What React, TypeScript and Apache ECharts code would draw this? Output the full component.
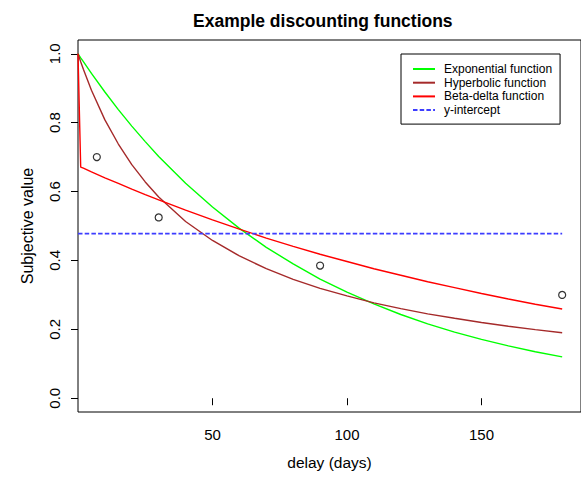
import React, { useEffect, useRef } from "react";
import * as echarts from "echarts";

const delays = [0, 1, 2, 5, 10, 15, 20, 25, 30, 40, 50, 60, 70, 80, 90, 100, 110, 120, 130, 140, 150, 160, 170, 180];
const exponential = [1.0, 0.988, 0.977, 0.943, 0.889, 0.838, 0.79, 0.745, 0.702, 0.624, 0.555, 0.493, 0.438, 0.39, 0.346, 0.308, 0.274, 0.243, 0.216, 0.192, 0.171, 0.152, 0.135, 0.12];
const hyperbolic = [1.0, 0.977, 0.955, 0.894, 0.808, 0.738, 0.678, 0.628, 0.584, 0.513, 0.458, 0.413, 0.376, 0.345, 0.319, 0.297, 0.277, 0.26, 0.245, 0.232, 0.22, 0.209, 0.199, 0.19];
const betaDelta = [1.0, 0.671, 0.668, 0.657, 0.64, 0.624, 0.607, 0.591, 0.576, 0.546, 0.518, 0.491, 0.465, 0.441, 0.418, 0.397, 0.376, 0.357, 0.338, 0.321, 0.304, 0.288, 0.273, 0.259];
const yInterceptValue = 0.478;
const yInterceptRange = [0, 180];

const obsDelays = [7, 30, 90, 180];
const obsValues = [0.7, 0.525, 0.385, 0.3];

const xTicks = [50, 100, 150];
const yTicks = [0, 0.2, 0.4, 0.6, 0.8, 1.0];

const FONT = "'Liberation Sans', Arial, Helvetica, sans-serif";

export default function App() {
  const ref = useRef<HTMLDivElement>(null);
  useEffect(() => {
    if (!ref.current) return;
    const chart = echarts.init(ref.current, null, { renderer: "svg" });
    const pair = (vals: number[]) => delays.map((d, i) => [d, vals[i]]);
    const hidden = { opacity: 0 };
    chart.setOption({
      animation: false,
      backgroundColor: "#fff",
      title: {
        text: "Example discounting functions",
        left: 188,
        top: 7,
        textStyle: { fontFamily: FONT, fontSize: 17.5, fontWeight: "bold", color: "#000" },
      },
      grid: {
        left: 78,
        top: 40,
        width: 505,
        height: 372,
        show: true,
        borderColor: "#000",
        borderWidth: 1,
        containLabel: false,
      },
      legend: {
        orient: "vertical",
        left: 401,
        top: 54,
        padding: [9, 8, 8, 11],
        itemGap: 1.7,
        itemWidth: 22,
        itemHeight: 12,
        borderColor: "#000",
        borderWidth: 1,
        backgroundColor: "#fff",
        itemStyle: { opacity: 0 },
        textStyle: { fontFamily: FONT, fontSize: 12, color: "#000", padding: [0, 0, 0, 4] },
        data: ["Exponential function", "Hyperbolic function", "Beta-delta function", "y-intercept"],
      },
      xAxis: {
        type: "value",
        min: 0,
        max: 187,
        name: "delay (days)",
        nameLocation: "middle",
        nameGap: 42,
        nameTextStyle: { fontFamily: FONT, fontSize: 15.5, color: "#000" },
        axisLine: { show: false },
        splitLine: { show: false },
        axisTick: { show: true, length: 7, lineStyle: { color: "#000" }, customValues: xTicks },
        axisLabel: { fontFamily: FONT, fontSize: 15, color: "#000", margin: 15, customValues: xTicks },
      },
      yAxis: {
        type: "value",
        min: -0.04,
        max: 1.04,
        name: "Subjective value",
        nameLocation: "middle",
        nameGap: 43,
        nameTextStyle: { fontFamily: FONT, fontSize: 16, color: "#000" },
        axisLine: { show: false },
        splitLine: { show: false },
        axisTick: { show: true, length: 7, lineStyle: { color: "#000" }, customValues: yTicks },
        axisLabel: {
          fontFamily: FONT,
          fontSize: 15,
          color: "#000",
          rotate: 90,
          margin: 16,
          customValues: yTicks,
          formatter: (v: number) => v.toFixed(1),
        },
      },
      series: [
        {
          name: "Observed",
          type: "scatter",
          data: obsDelays.map((d, i) => [d, obsValues[i]]),
          symbol: "circle",
          symbolSize: 7,
          itemStyle: { color: "#fff", borderColor: "#000", borderWidth: 1.2 },
          z: 5,
        },
        {
          name: "Exponential function",
          type: "line",
          data: pair(exponential),
          symbol: "none",
          color: "#00ff00",
          itemStyle: hidden,
          lineStyle: { color: "#00ff00", width: 1.4 },
        },
        {
          name: "Hyperbolic function",
          type: "line",
          data: pair(hyperbolic),
          symbol: "none",
          color: "#a52a2a",
          itemStyle: hidden,
          lineStyle: { color: "#a52a2a", width: 1.4 },
        },
        {
          name: "Beta-delta function",
          type: "line",
          data: pair(betaDelta),
          symbol: "none",
          color: "#ff0000",
          itemStyle: hidden,
          lineStyle: { color: "#ff0000", width: 1.4 },
        },
        {
          name: "y-intercept",
          type: "line",
          data: yInterceptRange.map((d) => [d, yInterceptValue]),
          symbol: "none",
          color: "#3d3dff",
          itemStyle: hidden,
          lineStyle: { color: "#3d3dff", width: 1.6, type: [4.5, 2.2] },
        },
      ],
    });
    return () => chart.dispose();
  }, []);
  return <div ref={ref} style={{ width: 581, height: 477, position: "absolute", left: 0, top: 0 }} />;
}
